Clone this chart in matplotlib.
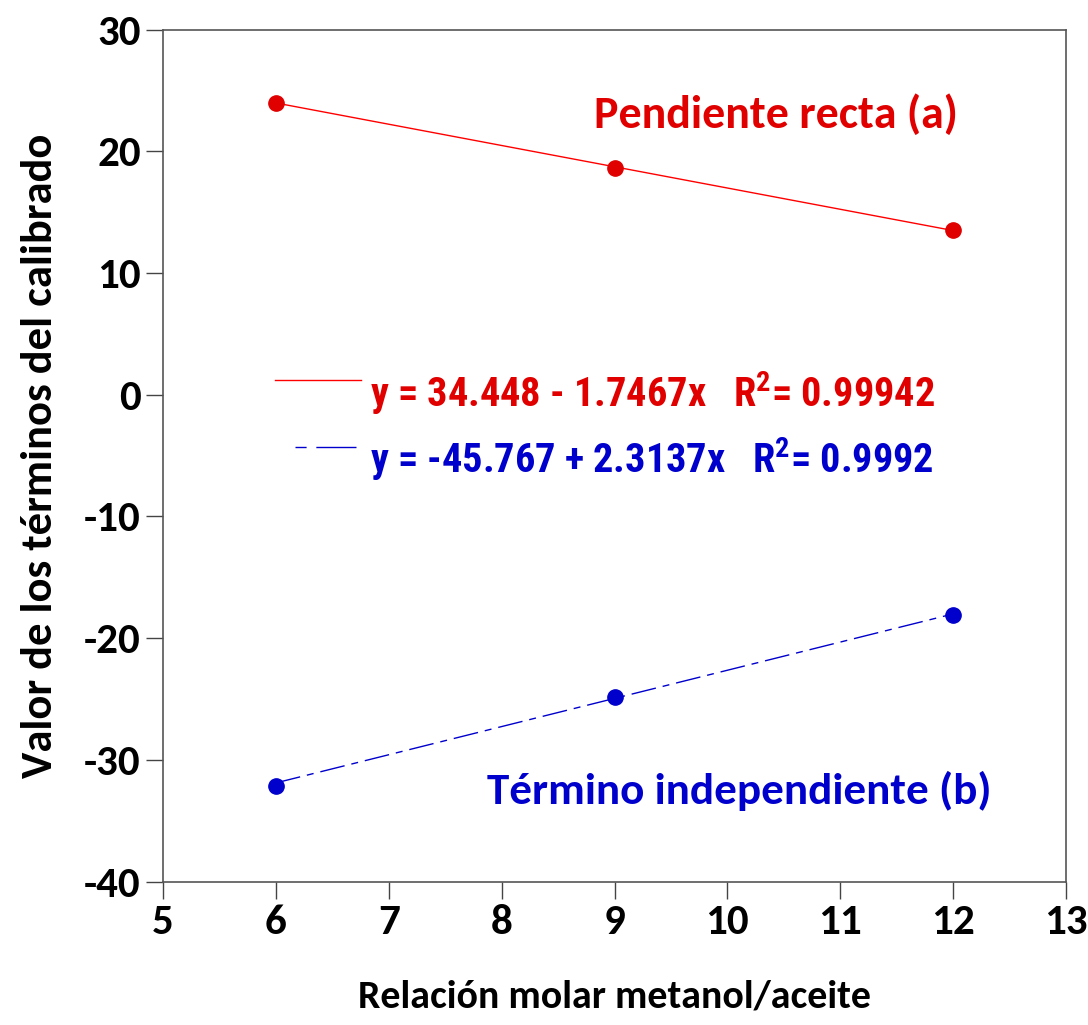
import matplotlib
matplotlib.use('Agg')
import matplotlib.pyplot as plt
import numpy as np

# data
relacion = [6, 9, 12]
pendiente = [24.0, 18.6, 13.5]
termino = [-32.1, -24.8, -18.1]

# fitted coefficients shown on the chart
fit_a = (34.448, -1.7467, 0.99942)
fit_b = (-45.767, 2.3137, 0.9992)

x_ticks = [5, 6, 7, 8, 9, 10, 11, 12, 13]
y_ticks = [-40, -30, -20, -10, 0, 10, 20, 30]

RED = '#E00000'
BLUE = '#0000CC'
main_font = 'Carlito'
eq_font = 'Roboto Condensed'
dashdot = (0, (18, 5, 5, 5))

plt.rcParams['mathtext.fontset'] = 'custom'
plt.rcParams['mathtext.rm'] = 'Roboto Condensed:bold'
plt.rcParams['mathtext.bf'] = 'Roboto Condensed:bold'

fig = plt.figure(figsize=(10.88, 10.25), dpi=100)
ax = fig.add_axes([0.1498, 0.1398, 0.8300, 0.8314])

xs = np.array(relacion, dtype=float)
ax.plot(xs, fit_a[0] + fit_a[1] * xs, color='red', lw=1.0)
ax.plot(xs, fit_b[0] + fit_b[1] * xs, color=BLUE, lw=1.0, linestyle=dashdot)
ax.plot(relacion, pendiente, 'o', color=RED, ms=11, mec=RED)
ax.plot(relacion, termino, 'o', color=BLUE, ms=11, mec=BLUE)

ax.set_xlim(5, 13)
ax.set_ylim(-40, 30)
ax.set_xticks(x_ticks)
ax.set_yticks(y_ticks)
ax.set_xticklabels([str(t) for t in x_ticks], fontfamily=main_font,
                   fontweight='bold', fontsize=31)
ax.set_yticklabels([str(t) for t in y_ticks], fontfamily=main_font,
                   fontweight='bold', fontsize=31)
ax.tick_params(direction='out', length=12, width=1.0, color='#444444', pad=4)
for s in ax.spines.values():
    s.set_color('#555555')
    s.set_linewidth(1.2)

ax.set_xlabel('Relación molar metanol/aceite', fontfamily=main_font,
              fontweight='bold', fontsize=28.7, labelpad=28)
ax.set_ylabel('Valor de los términos del calibrado', fontfamily=main_font,
              fontweight='bold', fontsize=32, labelpad=18)

ax.text(0.880, 0.884, 'Pendiente recta (a)', transform=ax.transAxes,
        ha='right', va='baseline', color=RED, fontfamily=main_font,
        fontweight='bold', fontsize=33)
ax.text(0.918, 0.091, 'Término independiente (b)', transform=ax.transAxes,
        ha='right', va='baseline', color=BLUE, fontfamily=main_font,
        fontweight='bold', fontsize=32.5)

# equation keys and labels
lab_a = 'y = %.3f - %.4fx   R$^{2}$= %.5f' % (fit_a[0], -fit_a[1], fit_a[2])
lab_b = 'y = %.3f + %.4fx   R$^{2}$= %.4f' % (fit_b[0], fit_b[1], fit_b[2])
ax.plot([0.124, 0.219], [0.589, 0.589], transform=ax.transAxes,
        color='red', lw=1.0)
ax.plot([0.146, 0.214], [0.510, 0.510], transform=ax.transAxes,
        color=BLUE, lw=1.0, linestyle=(0, (8, 7, 29, 5)))
ax.text(0.229, 0.557, lab_a, transform=ax.transAxes, ha='left',
        va='baseline', color=RED, fontfamily=eq_font, fontweight='bold',
        fontsize=29)
ax.text(0.229, 0.480, lab_b, transform=ax.transAxes, ha='left',
        va='baseline', color=BLUE, fontfamily=eq_font, fontweight='bold',
        fontsize=29)

fig.savefig('out.png', dpi=100)
